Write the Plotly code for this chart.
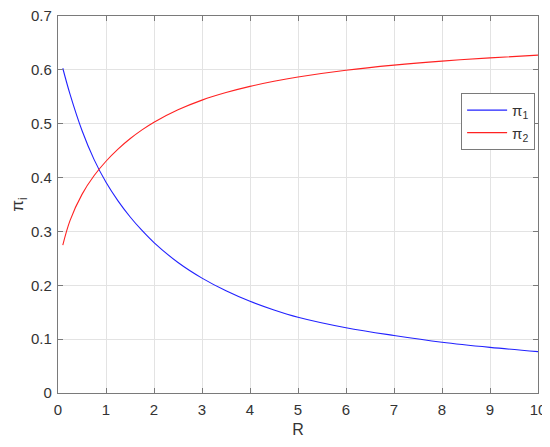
import plotly.graph_objects as go

# values
R = [0.1, 0.25, 0.5, 0.75, 1.0, 1.25, 1.5, 1.75, 2.0, 2.5, 3.0, 3.5, 4.0, 4.5, 5.0, 6.0, 7.0, 8.0, 9.0, 10.0]
pi_1 = [0.603, 0.555, 0.4875, 0.4338, 0.3913, 0.3568, 0.3273, 0.3018, 0.2793, 0.2423, 0.2133, 0.1898,
        0.1703, 0.1543, 0.1408, 0.1213, 0.1068, 0.0943, 0.0848, 0.0768]
pi_2 = [0.2745, 0.32, 0.3688, 0.4033, 0.4303, 0.4528, 0.472, 0.4885, 0.5028, 0.5258, 0.5438, 0.5578,
        0.5693, 0.5788, 0.5868, 0.5993, 0.6088, 0.6163, 0.6223, 0.6273]

x_ticks = [0, 1, 2, 3, 4, 5, 6, 7, 8, 9, 10]
y_ticks = [0, 0.1, 0.2, 0.3, 0.4, 0.5, 0.6, 0.7]
y_labels = ["0", "0.1", "0.2", "0.3", "0.4", "0.5", "0.6", "0.7"]

font = "Liberation Sans, Arial"

fig = go.Figure()
fig.add_trace(go.Scatter(x=R, y=pi_1, mode="lines", name="π<sub>1</sub>",
                         line=dict(color="#2222ff", width=1.1, shape="spline", smoothing=1.0)))
fig.add_trace(go.Scatter(x=R, y=pi_2, mode="lines", name="π<sub>2</sub>",
                         line=dict(color="#ff2222", width=1.1, shape="spline", smoothing=1.0)))

axis_style = dict(showline=True, mirror="ticks", linecolor="#7a7a7a", linewidth=1.3,
                  showgrid=True, gridcolor="#e3e3e3", gridwidth=1, zeroline=False,
                  ticks="inside", ticklen=5, tickcolor="#7a7a7a", automargin=False,
                  ticklabeloverflow="allow",
                  tickfont=dict(family=font, size=15, color="#333333"))

fig.update_xaxes(range=[0, 10], tickvals=x_ticks, ticklabelstandoff=3,
                 title=dict(text="R", standoff=6, font=dict(family=font, size=16, color="#333333")),
                 **axis_style)
fig.update_yaxes(range=[0, 0.7], tickvals=y_ticks, ticktext=y_labels, ticklabelstandoff=2,
                 title=dict(text="π<sub>i</sub>", standoff=12, font=dict(family=font, size=17, color="#333333")),
                 **axis_style)

# the page adds an 8px body margin, so the figure is a bit smaller than the window
fig.update_layout(
    width=542, height=439,
    margin=dict(l=50, r=12, t=8, b=54),
    plot_bgcolor="white", paper_bgcolor="white",
    legend=dict(x=0.994, y=0.796, xanchor="right", yanchor="top",
                bordercolor="#7a7a7a", borderwidth=1, bgcolor="white", itemwidth=40,
                font=dict(family=font, size=15, color="#333333")),
)

fig.write_html("out.html")
